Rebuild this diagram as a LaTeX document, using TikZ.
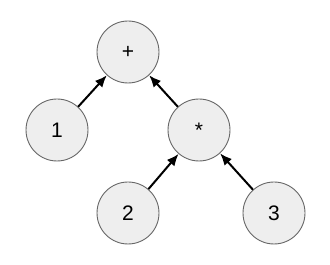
\documentclass[tikz,border=0pt]{standalone}
\usepackage{fontspec}
\setmainfont{Liberation Sans}
\usetikzlibrary{arrows.meta}
\definecolor{nodefill}{HTML}{EEEEEE}
\definecolor{nodeline}{HTML}{666666}

\begin{document}
\begin{tikzpicture}[x=1pt,y=1pt,
    treenode/.style={circle, draw=nodeline, fill=nodefill, line width=0.9pt,
        minimum size=62pt, inner sep=0pt, font=\fontsize{21}{25}\selectfont},
    edge/.style={line width=2pt, -{Latex[length=12pt,width=10pt]}}]
    % 余白を含めた枠
    \useasboundingbox (0,0) rectangle (330,265);
    
    % ノード（数式 1 + 2 * 3 の構文木）
    \node[treenode] (plus)  at (128,213) {+};
    \node[treenode] (one)   at (57,135)  {1};
    \node[treenode] (times) at (199,135) {*};
    \node[treenode] (two)   at (128,52)  {2};
    \node[treenode] (three) at (274,52)  {3};
    
    % 子から親への矢印
    \foreach \c/\p in {one/plus, times/plus, two/times, three/times} {
        \draw[edge] (\c) -- (\p);
    }
    %
\end{tikzpicture}
\end{document}
